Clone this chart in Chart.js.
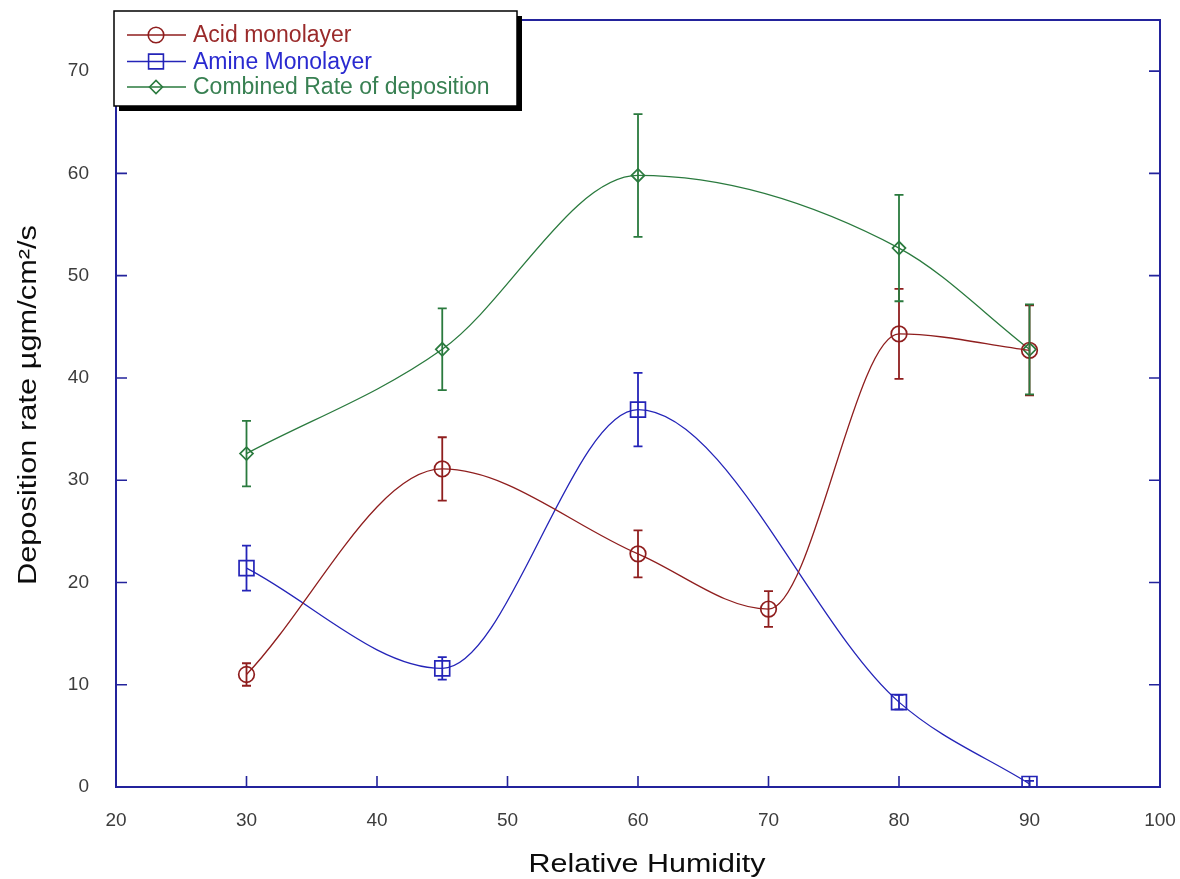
<!DOCTYPE html>
<html>
<head>
<meta charset="utf-8">
<title>Deposition rate vs relative humidity</title>
<script src="https://cdn.jsdelivr.net/npm/chart.js@4.4.1/dist/chart.umd.min.js"></script>
<style>
  html, body { margin: 0; padding: 0; background: #ffffff; }
  canvas { display: block; }
</style>
</head>
<body>
<canvas id="chart" width="1180" height="879"></canvas>
<script>
// Relative humidity (%) at which each monolayer was measured
const acidHumidity     = [30, 45, 60, 70, 80, 90];
const amineHumidity    = [30, 45, 60, 80, 90];
const combinedHumidity = [30, 45, 60, 80, 90];

// Deposition rate (µg/cm²/s) and its uncertainty
const acidRate     = [11.0, 31.1, 22.8, 17.4, 44.3, 42.7];
const acidError    = [1.1, 3.1, 2.3, 1.75, 4.4, 4.4];
const amineRate    = [21.4, 11.6, 36.9, 8.3, 0.3];
const amineError   = [2.2, 1.1, 3.6, 0.7, 0.3];
const combinedRate = [32.6, 42.8, 59.8, 52.7, 42.8];
const combinedError= [3.2, 4.0, 6.0, 5.2, 4.4];

// Axis ticks
const xTickValues = [20, 30, 40, 50, 60, 70, 80, 90, 100];
const yTickValues = [0, 10, 20, 30, 40, 50, 60, 70];

const seriesLabels = ['Acid monolayer', 'Amine Monolayer', 'Combined Rate of deposition'];
const xTitle = 'Relative Humidity';
const yTitle = 'Deposition rate \u00b5gm/cm\u00b2/s';

const FRAME_COLOR = '#23239c';
const ACID_COLOR = '#8f1e1e';
const AMINE_COLOR = '#2424b8';
const COMBINED_COLOR = '#2a7a3e';
const ACID_TEXT = '#9a2a2a';
const AMINE_TEXT = '#2a2ad0';
const COMBINED_TEXT = '#388052';

function points(xs, ys) {
  return xs.map((x, i) => ({ x: x, y: ys[i] }));
}

// Vertical error bars with short caps, placed through the chart scales
const errorBarPlugin = {
  id: 'errorBars',
  afterDatasetsDraw(chart) {
    const ctx = chart.ctx;
    const xs = chart.scales.x, ys = chart.scales.y;
    chart.data.datasets.forEach(ds => {
      if (!ds.errors) return;
      ctx.save();
      ctx.strokeStyle = ds.borderColor;
      ctx.lineWidth = 1.8;
      ds.data.forEach((p, i) => {
        const e = ds.errors[i];
        const px = xs.getPixelForValue(p.x);
        const top = ys.getPixelForValue(p.y + e);
        const bot = ys.getPixelForValue(p.y - e);
        ctx.beginPath();
        ctx.moveTo(px, top); ctx.lineTo(px, bot);
        ctx.moveTo(px - 4.5, top); ctx.lineTo(px + 4.5, top);
        ctx.moveTo(px - 4.5, bot); ctx.lineTo(px + 4.5, bot);
        ctx.stroke();
      });
      ctx.restore();
    });
  }
};

function drawMarker(ctx, style, radius, x, y, color) {
  ctx.save();
  ctx.strokeStyle = color;
  ctx.lineWidth = 1.6;
  ctx.beginPath();
  if (style === 'circle') {
    ctx.arc(x, y, radius, 0, Math.PI * 2);
  } else if (style === 'rect') {
    const s = Math.SQRT1_2 * radius;
    ctx.rect(x - s, y - s, 2 * s, 2 * s);
  } else {
    ctx.moveTo(x - radius, y); ctx.lineTo(x, y - radius);
    ctx.lineTo(x + radius, y); ctx.lineTo(x, y + radius);
    ctx.closePath();
  }
  ctx.stroke();
  ctx.restore();
}

function fittedScale(ctx, text, width) {
  return width / ctx.measureText(text).width;
}

// Plot frame, inward tick marks, axis titles and the boxed legend
const decorPlugin = {
  id: 'decor',
  afterDraw(chart) {
    const ctx = chart.ctx;
    const a = chart.chartArea;
    const xs = chart.scales.x, ys = chart.scales.y;
    ctx.save();

    // frame
    ctx.strokeStyle = FRAME_COLOR;
    ctx.lineWidth = 2;
    ctx.strokeRect(a.left, a.top, a.right - a.left, a.bottom - a.top);

    // inward ticks
    ctx.lineWidth = 1.6;
    ctx.beginPath();
    xs.ticks.forEach(t => {
      const px = xs.getPixelForValue(t.value);
      ctx.moveTo(px, a.bottom); ctx.lineTo(px, a.bottom - 11);
    });
    ys.ticks.forEach(t => {
      const py = ys.getPixelForValue(t.value);
      ctx.moveTo(a.left, py); ctx.lineTo(a.left + 11, py);
      ctx.moveTo(a.right, py); ctx.lineTo(a.right - 11, py);
    });
    ctx.stroke();

    // axis titles
    ctx.fillStyle = '#0c0c0c';
    ctx.font = '25px "Liberation Sans", Arial, sans-serif';
    ctx.textAlign = 'center';
    ctx.textBaseline = 'middle';
    let sx = fittedScale(ctx, xTitle, 237);
    ctx.save();
    ctx.translate(647, 865);
    ctx.scale(sx, 1);
    ctx.fillText(xTitle, 0, 0);
    ctx.restore();

    ctx.font = '26px "Liberation Sans", Arial, sans-serif';
    sx = fittedScale(ctx, yTitle, 360);
    ctx.save();
    ctx.translate(29, 405);
    ctx.rotate(-Math.PI / 2);
    ctx.scale(sx, 1);
    ctx.fillText(yTitle, 0, 0);
    ctx.restore();

    // legend box with drop shadow
    const bx = 114, by = 11, bw = 403, bh = 95;
    ctx.fillStyle = '#000000';
    ctx.fillRect(bx + 5, by + 5, bw, bh);
    ctx.fillStyle = '#ffffff';
    ctx.fillRect(bx, by, bw, bh);
    ctx.strokeStyle = '#000000';
    ctx.lineWidth = 1.5;
    ctx.strokeRect(bx, by, bw, bh);

    const textColors = [ACID_TEXT, AMINE_TEXT, COMBINED_TEXT];
    const rowY = [35, 61.5, 87];
    ctx.font = '23px "Liberation Sans", Arial, sans-serif';
    ctx.textAlign = 'left';
    ctx.textBaseline = 'middle';
    chart.data.datasets.forEach((ds, i) => {
      const y = rowY[i];
      ctx.strokeStyle = ds.borderColor;
      ctx.lineWidth = 1.3;
      ctx.beginPath();
      ctx.moveTo(127, y); ctx.lineTo(186, y);
      ctx.stroke();
      drawMarker(ctx, ds.pointStyle, ds.pointRadius, 156, y, ds.borderColor);
      ctx.fillStyle = textColors[i];
      ctx.fillText(ds.label, 193, y + 1);
    });

    ctx.restore();
  }
};

const makeDataset = (label, xs, ys, errs, color, style, radius) => ({
  label: label,
  data: points(xs, ys),
  errors: errs,
  borderColor: color,
  backgroundColor: 'rgba(0,0,0,0)',
  borderWidth: 1.3,
  cubicInterpolationMode: 'monotone',
  pointStyle: style,
  pointRadius: radius,
  pointBorderWidth: 1.7,
  pointBorderColor: color,
  pointBackgroundColor: 'rgba(0,0,0,0)',
  fill: false
});

// keep the plot rectangle exactly where the layout padding puts it
const noScalePadding = s => {
  s.paddingTop = 0; s.paddingBottom = 0; s.paddingLeft = 0; s.paddingRight = 0;
};

new Chart(document.getElementById('chart'), {
  type: 'line',
  data: {
    datasets: [
      makeDataset(seriesLabels[0], acidHumidity, acidRate, acidError, ACID_COLOR, 'circle', 7.8),
      makeDataset(seriesLabels[1], amineHumidity, amineRate, amineError, AMINE_COLOR, 'rect', 10.5),
      makeDataset(seriesLabels[2], combinedHumidity, combinedRate, combinedError, COMBINED_COLOR, 'rectRot', 6.5)
    ]
  },
  options: {
    responsive: false,
    animation: false,
    devicePixelRatio: 1,
    layout: { padding: { top: 20, right: 20, left: 0, bottom: 0 } },
    plugins: {
      legend: { display: false },
      title: { display: false },
      tooltip: { enabled: false }
    },
    scales: {
      x: {
        type: 'linear',
        min: 20, max: 100,
        afterBuildTicks: s => { s.ticks = xTickValues.map(v => ({ value: v })); },
        afterFit: s => { s.height = 92; noScalePadding(s); },
        grid: { display: false, drawTicks: false },
        border: { display: false },
        ticks: {
          padding: 22,
          color: '#3c3c3c',
          font: { family: '"Liberation Sans", Arial, sans-serif', size: 19 },
          maxRotation: 0
        }
      },
      y: {
        type: 'linear',
        min: 0, max: 75,
        afterBuildTicks: s => { s.ticks = yTickValues.map(v => ({ value: v })); },
        afterFit: s => { s.width = 116; noScalePadding(s); },
        grid: { display: false, drawTicks: false },
        border: { display: false },
        ticks: {
          padding: 27,
          color: '#3c3c3c',
          font: { family: '"Liberation Sans", Arial, sans-serif', size: 19 }
        }
      }
    }
  },
  plugins: [errorBarPlugin, decorPlugin]
});
</script>
</body>
</html>
